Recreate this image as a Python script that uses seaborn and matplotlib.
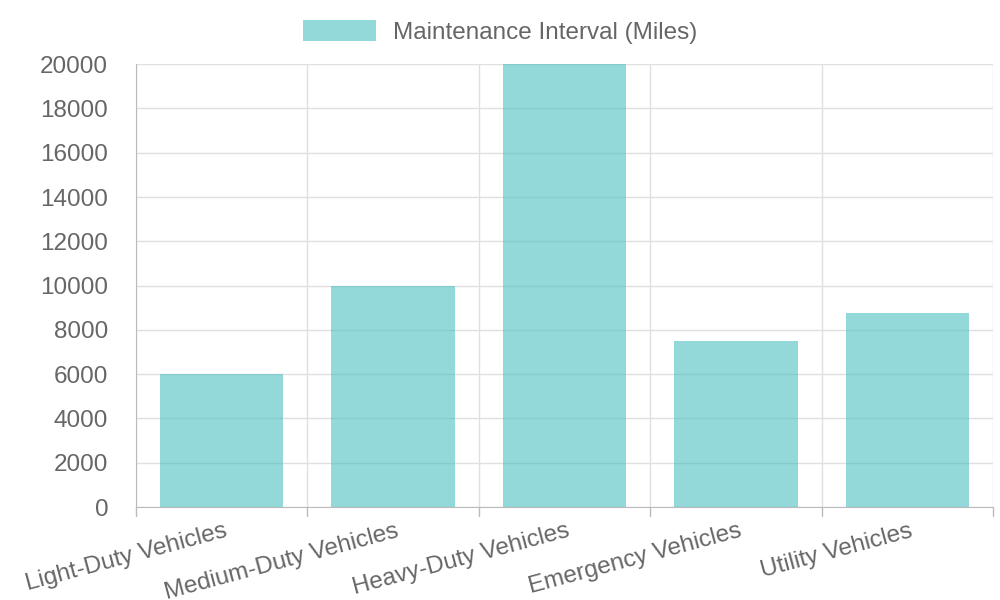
import matplotlib
matplotlib.use("Agg")
import matplotlib.pyplot as plt
import seaborn as sns
import pandas as pd
from matplotlib.transforms import ScaledTranslation
from matplotlib.patches import Patch

categories = ["Light-Duty Vehicles", "Medium-Duty Vehicles", "Heavy-Duty Vehicles", "Emergency Vehicles", "Utility Vehicles"]
values = [6000, 10000, 20000, 7500, 8750]
series_name = "Maintenance Interval (Miles)"

sns.set_style("white")
plt.rcParams['font.family'] = ['Liberation Sans', 'DejaVu Sans']

df = pd.DataFrame({"cat": categories, "val": values})
fig = plt.figure(figsize=(10, 6), dpi=100)
ax = fig.add_axes([0.136, 0.155, 0.857, 0.738])
color = (75/255, 192/255, 192/255, 0.6)
sns.barplot(data=df, x="cat", y="val", color=color, saturation=1, width=0.72,
            linewidth=0, ax=ax, zorder=3)
ax.set_xlim(-0.5, len(categories) - 0.5)
ax.set_ylim(0, 20000)
ax.set_yticks(range(0, 20001, 2000))
ax.grid(axis="y", color="#e0e0e0", linewidth=1, zorder=0)
for i in range(len(categories) + 1):
    ax.axvline(i - 0.5, color="#e0e0e0", linewidth=1, zorder=0)
ax.set_xlabel("")
ax.set_ylabel("")
for s in ["top", "right"]:
    ax.spines[s].set_visible(False)
for s in ["left", "bottom"]:
    ax.spines[s].set_color("#bbbbbb")
ax.tick_params(axis="y", labelsize=17.5, colors="#666666", length=0, pad=20)
ax.tick_params(axis="x", labelsize=17.5, colors="#666666", length=0)
ax.set_xticks(range(len(categories)))
ax.set_xticklabels(categories, rotation=15, ha="right", rotation_mode="anchor")
for lbl in ax.get_xticklabels():
    lbl.set_transform(lbl.get_transform() + ScaledTranslation(0.02, -0.08, fig.dpi_scale_trans))
for i in range(len(categories) + 1):
    ax.plot([i - 0.5, i - 0.5], [0, -400], color="#bbbbbb", linewidth=1, clip_on=False)

fig.legend(handles=[Patch(facecolor=color, edgecolor="none")],
           labels=[series_name], loc="center", bbox_to_anchor=(0.5, 0.947),
           frameon=False, fontsize=17.5, labelcolor="#666666", handlelength=3.0, handleheight=1.0,
           handletextpad=0.7)
fig.savefig("out.png", dpi=100)
